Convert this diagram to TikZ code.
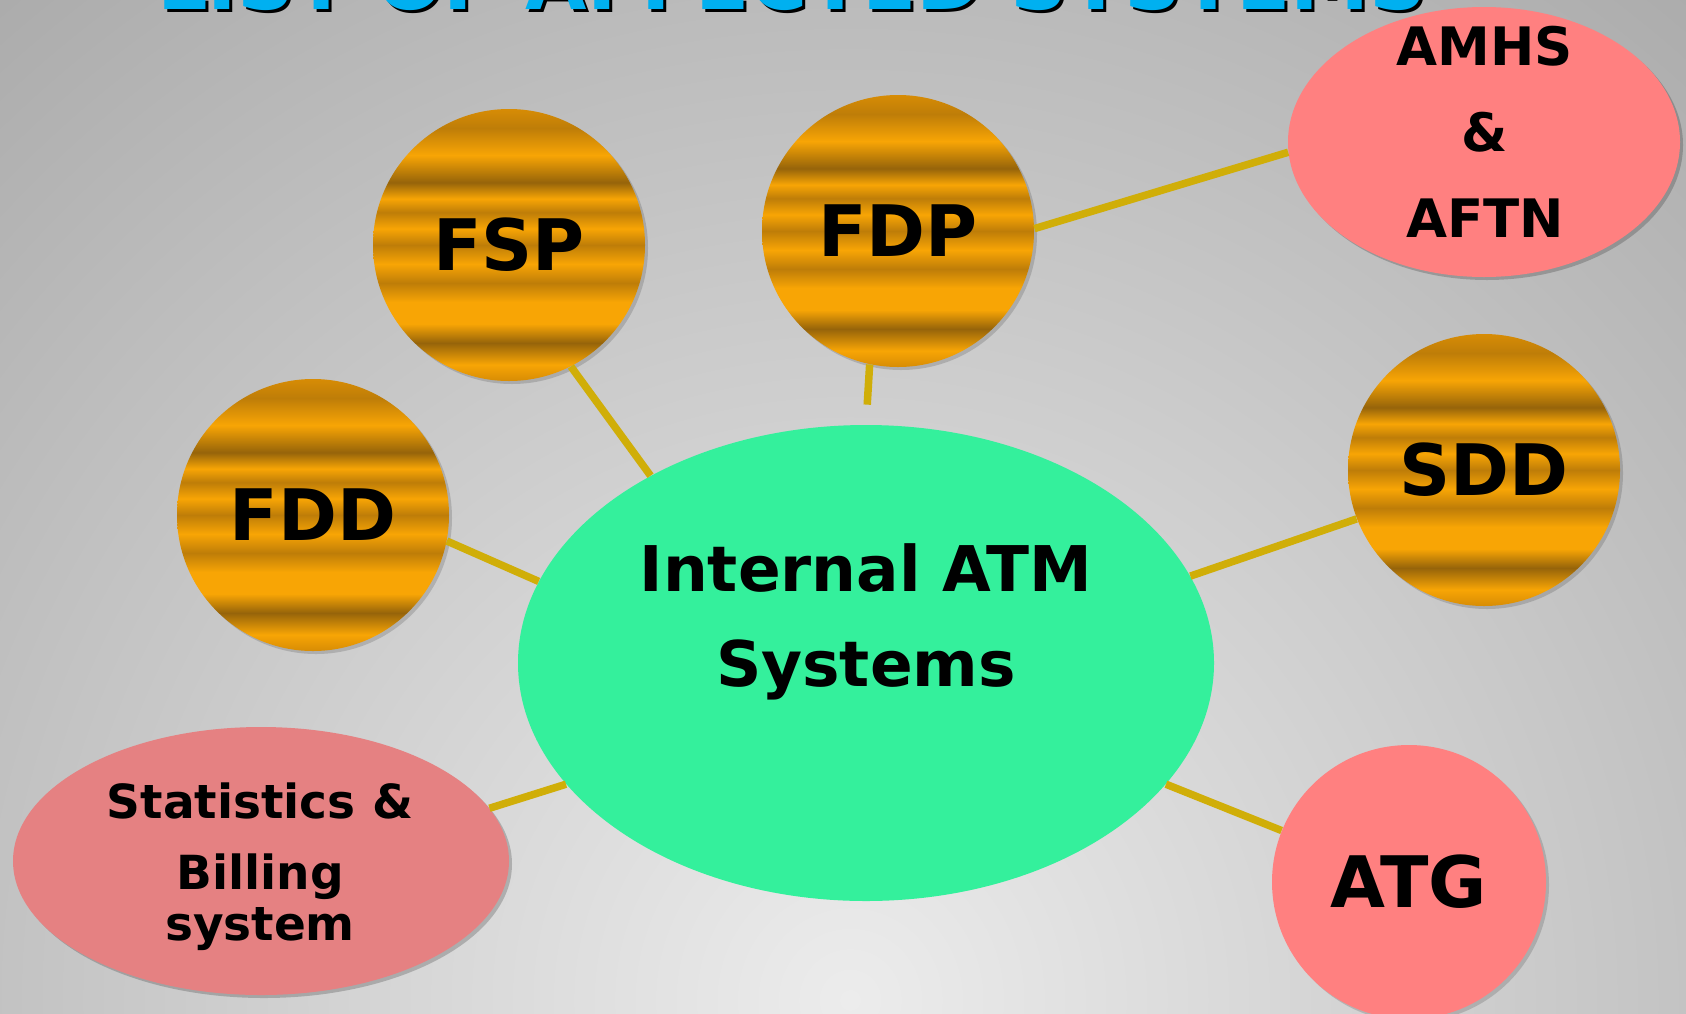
\documentclass[tikz,border=0pt]{standalone}
\usepackage{fontspec}
\setmainfont{DejaVu Sans}
\usetikzlibrary{shapes.geometric,shadows}
\definecolor{gl}{RGB}{248,165,5}
\definecolor{gm}{RGB}{215,140,5}
\definecolor{gmd}{RGB}{190,125,8}
\definecolor{gd}{RGB}{150,100,10}
\definecolor{atmgreen}{RGB}{52,240,156}
\definecolor{pinkA}{RGB}{255,128,128}
\definecolor{pinkS}{RGB}{229,129,130}
\definecolor{conncol}{RGB}{208,174,8}
\definecolor{titleblue}{RGB}{0,176,240}
\definecolor{bgin}{RGB}{236,236,236}
\definecolor{bgout}{RGB}{170,170,170}
\pgfdeclareverticalshading{goldstripes}{100bp}{color(0bp)=(gm); color(25bp)=(gm); color(28bp)=(gl); color(32bp)=(gd); color(35.5bp)=(gl); color(39.5bp)=(gl); color(43bp)=(gmd); color(46.5bp)=(gl); color(50bp)=(gmd); color(53bp)=(gl); color(56bp)=(gmd); color(58.5bp)=(gl); color(61.5bp)=(gd); color(66.5bp)=(gl); color(71.5bp)=(gmd); color(75bp)=(gm); color(100bp)=(gm)}
\begin{document}
\begin{tikzpicture}[x=0.5pt,y=-0.5pt,
  goldc/.style={circle, minimum size=136pt, inner sep=0pt, shade, shading=goldstripes,
    drop shadow={shadow xshift=1.5pt, shadow yshift=-1.5pt, opacity=0.15, fill=black},
    font=\fontsize{35.5}{40}\selectfont\bfseries, text=black},
  pinkc/.style={circle, minimum size=137pt, inner sep=0pt, fill=pinkA,
    drop shadow={shadow xshift=1.5pt, shadow yshift=-1.5pt, opacity=0.15, fill=black},
    font=\fontsize{35.5}{40}\selectfont\bfseries, text=black},
  pinkell/.style={ellipse, inner sep=0pt,
    drop shadow={shadow xshift=1.5pt, shadow yshift=-1.5pt, opacity=0.2, fill=black}},
  lbl/.style={align=center, inner sep=0pt, text=black},
  conn/.style={draw=conncol, line width=3.75pt},
  titletxt/.style={font=\fontsize{39.7}{44}\selectfont\bfseries, anchor=base, inner sep=0pt}
]
\useasboundingbox (0,0) rectangle (1686,1013);
\begin{scope}
  \clip (0,0) rectangle (1686,1013);
  \fill[bgout] (0,0) rectangle (1686,1013);
  \shade[inner color=bgin, outer color=bgout] (850,1000) ellipse (1350 and 1350);
\end{scope}

% shapes
\node[ellipse, fill=atmgreen, minimum width=348pt, minimum height=238pt, inner sep=0pt] (c) at (866,663) {};
\node[goldc] (fsp) at (509,245) {FSP};
\node[goldc] (fdp) at (898,231) {FDP};
\node[goldc] (fdd) at (313,515) {FDD};
\node[goldc] (sdd) at (1484,470) {SDD};
\node[pinkc] (atg) at (1409,882) {ATG};
\node[pinkell, fill=pinkA, minimum width=196pt, minimum height=135pt] (amhs) at (1484,142) {};
\node[pinkell, fill=pinkS, minimum width=248pt, minimum height=134pt] (stats) at (261,861) {};

% texts
\node[lbl, font=\fontsize{31.5}{47.5}\selectfont\bfseries] (ctext) at (866,622) {Internal ATM\\Systems};
\node[lbl, font=\fontsize{26.5}{43}\selectfont\bfseries] (amhstext) at (1485,132) {AMHS\\\&\\AFTN};
\node[lbl, font=\fontsize{23.5}{25.5}\selectfont\bfseries] (statstext) at (260,867) {Statistics \&\\[10pt]Billing\\system};

% connectors
\draw[conn] (fsp.-63) -- (c.139);
\draw[conn, shorten >=10pt] (fdp.-102) -- (c.90);
\draw[conn] (fdd.-11) -- (c.166.5);
\draw[conn] (sdd.-159) -- (c.15.4);
\draw[conn] (fdp.1) -- (amhs.183.5);
\draw[conn] (atg.158) -- (c.-22);
\draw[conn] (stats.13.6) -- (c.-158.6);

% title (cut off at the top edge, as in the reference)
\node[titletxt, text=black] (titleshadow) at (795,12) {LIST OF AFFECTED SYSTEMS};
\node[titletxt, text=titleblue] (title) at (792,9) {LIST OF AFFECTED SYSTEMS};
\end{tikzpicture}
\end{document}
